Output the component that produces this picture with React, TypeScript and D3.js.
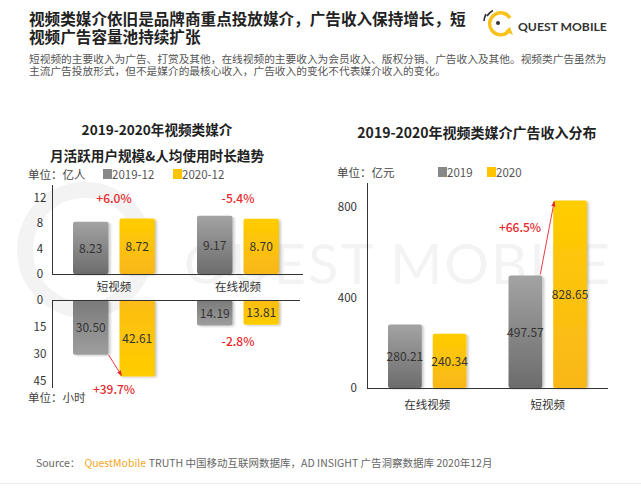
import React from "react";
import * as d3 from "d3";

const leftGroups = ["短视频", "在线视频"];
const leftSeries = ["2019-12", "2020-12"];
const mauValues = [[8.23, 8.72], [9.17, 8.7]];
const mauChange = ["+6.0%", "-5.4%"];
const timeValues = [[30.5, 42.61], [14.19, 13.81]];
const timeChange = ["+39.7%", "-2.8%"];
const mauTicks = [0, 4, 8, 12];
const timeTicks = [0, 15, 30, 45];

const rightGroups = ["在线视频", "短视频"];
const rightSeries = ["2019", "2020"];
const adValues = [[280.21, 240.34], [497.57, 828.65]];
const adTicks = [0, 400, 800];
const adChange = "+66.5%";

const FONT = "'Noto Sans CJK SC', 'Noto Sans', sans-serif";
const RED = "#e8262b";
const fills = ["url(#gGray)", "url(#gYellow)"];

export default function App() {
  // left chart scales
  const lx = d3.scaleBand<string>().domain(leftGroups).range([52, 300]).paddingInner(0).paddingOuter(0);
  const lxi = d3.scaleBand<string>().domain(leftSeries).range([21, 103]).paddingInner(11 / 46.5).paddingOuter(0);
  const yTop = d3.scaleLinear().domain([0, 14]).range([274, 185]);
  const yBot = d3.scaleLinear().domain([0, 49]).range([300, 388]);

  // right chart scales
  const rx = d3.scaleBand<string>().domain(rightGroups).range([367, 608]).paddingInner(0).paddingOuter(0);
  const rxi = d3.scaleBand<string>().domain(rightSeries).range([21, 99.5]).paddingInner(11 / 45).paddingOuter(0);
  const ry = d3.scaleLinear().domain([0, 900]).range([388, 184.4]);

  const fmt = d3.format(".2f");

  return (
    <svg width={641} height={491} style={{ display: "block", position: "absolute", left: 0, top: 0 }} fontFamily={FONT}>
      <defs>
        <linearGradient id="gGray" x1="0" y1="0" x2="0" y2="1">
          <stop offset="0" stopColor="#a3a3a3" />
          <stop offset="1" stopColor="#6c6c6c" />
        </linearGradient>
        <linearGradient id="gYellow" x1="0" y1="0" x2="0" y2="1">
          <stop offset="0" stopColor="#ffcd00" />
          <stop offset="1" stopColor="#f9b71a" />
        </linearGradient>
        <linearGradient id="gGrayDown" x1="0" y1="0" x2="0" y2="1">
          <stop offset="0" stopColor="#7a7a7a" />
          <stop offset="1" stopColor="#9e9e9e" />
        </linearGradient>
        <linearGradient id="gYellowDown" x1="0" y1="0" x2="0" y2="1">
          <stop offset="0" stopColor="#fbbd14" />
          <stop offset="1" stopColor="#ffcd00" />
        </linearGradient>
        <filter id="shadow" x="-20%" y="-10%" width="150%" height="130%">
          <feDropShadow dx="2" dy="1" stdDeviation="1.2" floodColor="#000" floodOpacity="0.2" />
        </filter>
        <marker id="arrow" viewBox="0 0 10 10" refX="9" refY="5" markerWidth="6" markerHeight="6" orient="auto">
          <path d="M0,1 L10,5 L0,9 z" fill={RED} />
        </marker>
      </defs>
      <rect x={0} y={0} width={641} height={491} fill="#fff" />

      {/* watermark */}
      <g opacity={0.045}>
        <circle cx={85} cy={250} r={60} fill="none" stroke="#000" strokeWidth={16} />
        <text x={612} y={284} textAnchor="end" fontSize={56} fontFamily="Lato, sans-serif" fill="#000" letterSpacing={2}>
          QUEST MOBILE
        </text>
      </g>

      {/* header */}
      <text x={29} y={25} fontSize={15.6} fontWeight="bold" fill="#222">视频类媒介依旧是品牌商重点投放媒介，广告收入保持增长，短</text>
      <text x={29} y={43} fontSize={15.6} fontWeight="bold" fill="#222">视频广告容量池持续扩张</text>
      <text x={29} y={63} fontSize={10.7} fill="#555">短视频的主要收入为广告、打赏及其他，在线视频的主要收入为会员收入、版权分销、广告收入及其他。视频类广告虽然为</text>
      <text x={29} y={75} fontSize={10.7} fill="#555">主流广告投放形式，但不是媒介的最核心收入，广告收入的变化不代表媒介收入的变化。</text>

      {/* logo */}
      <g>
        <path d="M 508 32 A 11 11 0 1 1 510 18" fill="none" stroke="#f7c21b" strokeWidth={3.5} />
        <path d="M 505 31 L 513 35 L 510 27 z" fill="#f7c21b" />
        <circle cx={498} cy={23} r={2} fill="#333" />
        <path d="M 487 16 A 14 14 0 0 1 493 10.5" fill="none" stroke="#333" strokeWidth={1.6} />
        <path d="M 484 21 A 17 17 0 0 1 486 14" fill="none" stroke="#333" strokeWidth={1.6} />
        <text x={518} y={31} fontSize={12.2} fontWeight="bold" fill="#333" fontFamily="Lato, 'Open Sans', sans-serif">QUEST MOBILE</text>
      </g>

      {/* LEFT CHART */}
      <text x={157} y={135} textAnchor="middle" fontSize={13.6} fontWeight="bold" fill="#222">2019-2020年视频类媒介</text>
      <text x={157} y={161} textAnchor="middle" fontSize={13.6} fontWeight="bold" fill="#222">月活跃用户规模&amp;人均使用时长趋势</text>
      <text x={28} y={179} fontSize={11.5} fill="#444">单位：亿人</text>
      {leftSeries.map((s, i) => (
        <g key={s}>
          <rect x={103 + i * 70} y={169} width={9} height={10} fill={i === 0 ? "#888" : "#ffc300"} />
          <text x={112 + i * 70} y={179} fontSize={11.5} fill="#555">{s}</text>
        </g>
      ))}

      {/* upper axis */}
      {mauTicks.map((t) => (
        <text key={t} x={40} y={yTop(t) + 4} textAnchor="middle" fontSize={11.5} fill="#333">{t}</text>
      ))}
      {leftGroups.map((g, gi) => (
        <g key={g}>
          {leftSeries.map((s, si) => {
            const v = mauValues[gi][si];
            const x = (lx(g) ?? 0) + (lxi(s) ?? 0);
            const y0 = yTop(v);
            return (
              <g key={s}>
                <rect x={x} y={y0} width={lxi.bandwidth()} height={yTop(0) - y0} rx={2} fill={fills[si]} filter="url(#shadow)" />
                <text x={x + lxi.bandwidth() / 2} y={(y0 + yTop(0)) / 2 + 5} textAnchor="middle" fontSize={12} fill="#333">{fmt(v)}</text>
              </g>
            );
          })}
          <text x={(lx(g) ?? 0) + lx.bandwidth() / 2} y={203} textAnchor="middle" fontSize={12} fontWeight={500} fill={RED}>{mauChange[gi]}</text>
          <text x={(lx(g) ?? 0) + lx.bandwidth() / 2} y={291} textAnchor="middle" fontSize={11.5} fill="#333">{g}</text>
        </g>
      ))}
      <line x1={52.5} x2={52.5} y1={185} y2={274} stroke="#333" />
      <line x1={52} x2={303} y1={274.5} y2={274.5} stroke="#333" />

      {/* lower axis */}
      {timeTicks.map((t) => (
        <text key={t} x={40} y={yBot(t) + 4} textAnchor="middle" fontSize={11.5} fill="#333">{t}</text>
      ))}
      {leftGroups.map((g, gi) => (
        <g key={g + "b"}>
          {leftSeries.map((s, si) => {
            const v = timeValues[gi][si];
            const x = (lx(g) ?? 0) + (lxi(s) ?? 0);
            const y1 = yBot(v);
            return (
              <g key={s}>
                <rect x={x} y={yBot(0)} width={lxi.bandwidth()} height={y1 - yBot(0)} rx={2} fill={si === 0 ? "url(#gGrayDown)" : "url(#gYellowDown)"} filter="url(#shadow)" />
                <text x={x + lxi.bandwidth() / 2} y={(yBot(0) + y1) / 2 + 5} textAnchor="middle" fontSize={12} fill="#333">{fmt(v)}</text>
              </g>
            );
          })}
        </g>
      ))}
      <line x1={52.5} x2={52.5} y1={300} y2={388} stroke="#333" />
      <line x1={52} x2={300} y1={300.5} y2={300.5} stroke="#333" />
      {(() => {
        const g = leftGroups[0];
        const xg = (lx(g) ?? 0) + (lxi(leftSeries[0]) ?? 0) + lxi.bandwidth();
        const xy = (lx(g) ?? 0) + (lxi(leftSeries[1]) ?? 0) + 2;
        return (
          <line x1={xg} y1={yBot(timeValues[0][0])} x2={xy} y2={yBot(timeValues[0][1]) - 1} stroke={RED} strokeWidth={0.9} markerEnd="url(#arrow)" />
        );
      })()}
      <text x={(lx(leftGroups[0]) ?? 0) + lx.bandwidth() / 2} y={394} textAnchor="middle" fontSize={12} fontWeight={500} fill={RED}>{timeChange[0]}</text>
      <text x={(lx(leftGroups[1]) ?? 0) + lx.bandwidth() / 2} y={346} textAnchor="middle" fontSize={12} fontWeight={500} fill={RED}>{timeChange[1]}</text>
      <text x={28} y={402} fontSize={11.5} fill="#444">单位：小时</text>

      {/* RIGHT CHART */}
      <text x={477} y={138} textAnchor="middle" fontSize={14} fontWeight="bold" fill="#222">2019-2020年视频类媒介广告收入分布</text>
      <text x={337} y={177} fontSize={11.5} fill="#444">单位：亿元</text>
      {rightSeries.map((s, i) => (
        <g key={s}>
          <rect x={438 + i * 49} y={167} width={9} height={10} fill={i === 0 ? "#888" : "#ffc300"} />
          <text x={447 + i * 49} y={177} fontSize={11.5} fill="#555">{s}</text>
        </g>
      ))}
      {adTicks.map((t) => (
        <text key={t} x={357} y={ry(t) + 4} textAnchor="end" fontSize={11.5} fill="#333">{t}</text>
      ))}
      {rightGroups.map((g, gi) => (
        <g key={g}>
          {rightSeries.map((s, si) => {
            const v = adValues[gi][si];
            const x = (rx(g) ?? 0) + (rxi(s) ?? 0);
            const y0 = ry(v);
            return (
              <g key={s}>
                <rect x={x} y={y0} width={rxi.bandwidth()} height={ry(0) - y0} rx={2} fill={fills[si]} filter="url(#shadow)" />
                <text x={x + rxi.bandwidth() / 2} y={(y0 + ry(0)) / 2 + 5} textAnchor="middle" fontSize={12} fill="#333">{fmt(v)}</text>
              </g>
            );
          })}
          <text x={(rx(g) ?? 0) + rx.bandwidth() / 2} y={409} textAnchor="middle" fontSize={11.5} fill="#333">{g}</text>
        </g>
      ))}
      <line x1={367.5} x2={367.5} y1={183} y2={388} stroke="#333" />
      <line x1={367} x2={608} y1={388.5} y2={388.5} stroke="#333" />
      {(() => {
        const g = rightGroups[1];
        const xg = (rx(g) ?? 0) + (rxi(rightSeries[0]) ?? 0) + rxi.bandwidth() - 2;
        const xy = (rx(g) ?? 0) + (rxi(rightSeries[1]) ?? 0) + 1;
        return (
          <line x1={xg} y1={ry(adValues[1][0]) - 1} x2={xy} y2={ry(adValues[1][1]) + 1} stroke={RED} strokeWidth={0.9} markerEnd="url(#arrow)" />
        );
      })()}
      <text x={520} y={232} textAnchor="middle" fontSize={12} fontWeight={500} fill={RED}>{adChange}</text>

      {/* source */}
      <text x={36} y={467} fontSize={10.5} fill="#666">
        <tspan>Source：</tspan>
        <tspan dx={4} fill="#f5a623">QuestMobile</tspan>
        <tspan dx={3}>TRUTH 中国移动互联网数据库，AD INSIGHT 广告洞察数据库 2020年12月</tspan>
      </text>
      <line x1={0} x2={641} y1={483.5} y2={483.5} stroke="#eee" />
    </svg>
  );
}
